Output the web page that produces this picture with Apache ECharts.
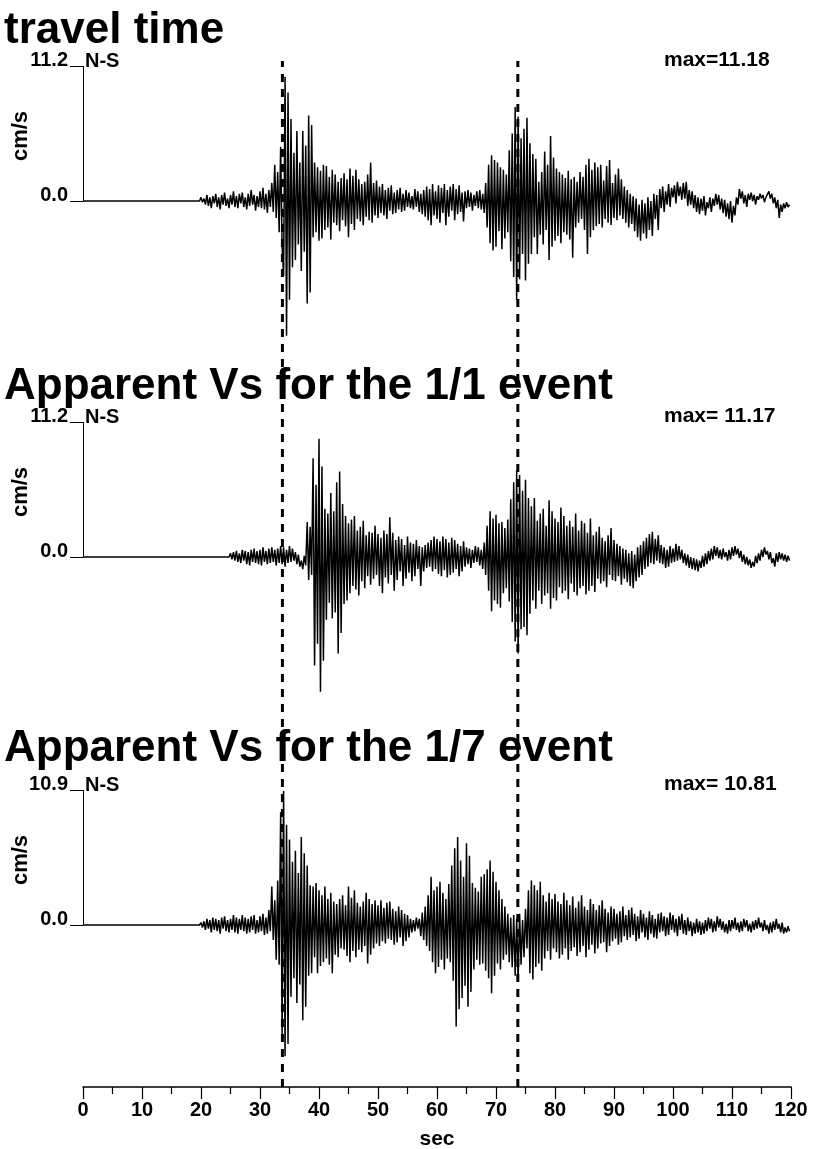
<!DOCTYPE html>
<html><head><meta charset="utf-8">
<script src="https://cdn.jsdelivr.net/npm/echarts@6/dist/echarts.min.js"></script>
<style>html,body{margin:0;padding:0;background:#fff}#c{width:815px;height:1149px}</style>
</head><body><div id="c"></div>
<script>
// ---------- data ----------
const titles = ['travel time', 'Apparent Vs for the 1/1 event', 'Apparent Vs for the 1/7 event'];
const componentLabel = 'N-S';
const yUnit = 'cm/s';
const yTop = [11.2, 11.2, 10.9];
const maxLabels = ['max=11.18', 'max= 11.17', 'max= 10.81'];
const pickTimes = [33.8, 73.7];
const xMin = 0, xMax = 120, xStep = 10;
const xName = 'sec';
const T0 = 20, DT = 0.25;

const trace1 = [
 0.3,-0.1,0.2,-0.3, 0.5,-0.4,0.3,-0.6, 0.4,-0.2,0.6,-0.5, 0.3,-0.7,0.5,-0.3, 0.7,-0.4,0.2,-0.6,
 0.5,-0.3,0.8,-0.5, 0.4,-0.6,0.6,-0.2, 0.7,-0.5,0.3,-0.7, 0.6,-0.4,0.9,-0.3, 0.5,-0.8,0.4,-0.5,
 0.8,-0.6,1.1,-0.7, 0.6,-1.0,0.9,-0.5, 1.5,-0.9,3.0,-1.4, 2.4,-2.6,4.5,-3.8, -6.2,10.3,-11.18,9.0,
 -8.2,6.8,-5.5,4.0, -4.9,5.8,-3.6,3.2, -5.8,5.8,-4.2,4.6, -8.5,7.1,-7.6,6.3, -3.0,3.2,-2.6,2.8,
 -3.3,2.5,-3.1,3.0, -2.4,2.9,-2.2,2.0, -3.2,2.6,-1.8,2.2, -2.0,1.6,-2.5,1.9, -1.6,2.3,-2.1,1.8,
 -3.0,2.7,-1.9,2.1, -2.4,2.6,-1.5,1.8, -1.7,1.4,-2.0,1.6, -1.3,2.2,-1.6,3.2, -1.8,1.5,-1.2,1.7,
 -1.4,1.2,-1.0,1.4, -1.2,0.9,-1.5,1.1, -0.8,1.3,-1.1,0.7, -1.0,0.9,-0.7,1.1, -0.9,0.6,-0.8,0.9,
 -0.5,0.7,-0.6,0.4, -0.7,1.0,-0.5,0.8, -0.9,0.6,-1.1,0.9, -1.3,1.2,-1.6,1.0, -2.0,1.4,-1.2,0.8,
 -1.5,1.3,-1.8,1.1, -1.0,1.4,-2.0,0.9, -1.3,1.2,-0.8,1.4, -1.6,1.0,-1.1,1.3, -0.9,0.7,-1.7,0.8,
 -0.6,0.9,-0.5,0.7, -0.8,0.5,-0.4,0.8, -0.6,0.9,-0.7,0.6, -1.0,1.5,-2.2,3.0, -3.5,3.8,-4.1,3.4,
 -3.8,3.2,-2.5,2.8, -4.0,2.6,-3.1,2.2, -2.6,4.2,-5.0,5.6, -6.3,7.8,-8.2,7.0, -6.5,5.2,-4.4,6.0,
 -6.6,6.9,-5.2,4.8, -4.4,3.9,-3.0,3.5, -4.4,1.6,-2.8,2.4, -3.6,4.1,-2.4,3.0, -4.9,5.4,-3.8,3.6,
 -3.3,2.7,-2.9,2.4, -3.5,2.2,-2.6,1.9, -2.8,2.5,-3.2,1.8, -4.7,2.0,-2.2,1.6, -1.8,2.4,-1.5,2.0,
 -2.4,3.0,-4.4,3.5, -3.0,2.6,-2.4,3.2, -2.1,2.8,-1.9,3.0, -2.2,1.7,-1.5,2.9, -1.8,3.4,-2.0,1.5,
 -1.4,2.2,-1.6,2.7, -1.2,1.8,-1.5,1.2, -1.8,0.9,-2.2,0.6, -1.9,0.4,-2.5,0.2, -3.0,-0.3,-3.3,0.1,
 -2.7,-0.2,-3.1,0.3, -2.4,0.0,-2.9,0.6, -1.5,0.5,-2.4,1.0, -0.6,1.2,-0.9,0.8, -0.3,1.4,-0.5,1.1,
 0.3,1.3,-0.2,1.6, 0.4,1.2,0.1,1.5, 0.2,1.6,-0.4,0.9, -0.3,0.8,-0.6,0.5, -0.9,0.3,-1.1,0.2,
 -0.8,0.4,-1.2,-0.1, -0.6,0.3,-0.9,0.2, -0.4,0.6,-0.3,0.5, -0.7,0.2,-1.0,0.1, -1.3,-0.2,-1.5,0.0,
 -1.8,-0.4,-1.2,0.3, -0.3,1.0,0.2,0.8, -0.2,0.5,-0.5,0.6, 0.1,0.7,0.0,0.5, -0.3,0.4,0.1,0.6,
 0.2,0.5,-0.1,0.3, 0.4,0.8,0.2,0.6, -0.2,0.3,-0.6,0.1, -1.4,-0.3,-0.9,-0.2, -0.6,-0.1,-0.5,-0.3
];

const trace2 = [
 0,0,0,0, 0,0,0,0, 0,0,0,0, 0,0,0,0, 0,0,0,0,
 0.3,-0.2,0.4,-0.3, 0.5,-0.4,0.3,-0.5, 0.6,-0.3,0.5,-0.6, 0.4,-0.7,0.6,-0.4, 0.7,-0.5,0.5,-0.6,
 0.6,-0.7,0.8,-0.4, 0.5,-0.6,0.7,-0.5, 0.8,-0.4,0.6,-0.7, 0.7,-0.5,0.9,-0.6, 0.8,-0.8,0.6,-0.5,
 0.9,-0.4,0.7,-0.3, 0.4,-0.6,0.2,-0.8, -0.3,-1.0,0.1,-0.7, 2.9,-1.9,2.5,-1.5, 8.2,-9.0,6.0,-7.2,
 9.8,-11.17,7.5,-8.6, 4.0,-5.2,3.6,-3.8, 5.3,-5.1,3.8,-4.6, 6.2,-8.0,7.1,-6.3, 4.4,-3.9,3.4,-3.6,
 2.8,-3.0,3.1,-2.4, 3.4,-2.7,2.2,-3.2, 2.5,-2.0,3.0,-2.6, 1.8,-1.6,2.1,-2.3, 2.0,-1.8,2.6,-1.5,
 1.9,-2.4,1.6,-3.0, 2.2,-1.7,1.9,-2.2, 3.3,-1.5,2.0,-2.8, 1.4,-1.9,1.7,-1.2, 1.5,-2.4,1.0,-1.8,
 1.7,-1.3,1.2,-2.0, 1.1,-1.6,1.4,-1.0, 0.9,-2.4,0.8,-1.2, 1.0,-0.9,1.2,-0.8, 1.4,-1.2,1.7,-1.0,
 1.5,-1.4,1.3,-1.6, 1.7,-1.1,1.5,-1.7, 1.2,-1.5,1.6,-1.3, 1.4,-1.0,1.1,-1.6, 0.9,-1.2,1.3,-0.8,
 0.8,-0.6,0.7,-0.9, 0.6,-0.5,0.9,-0.4, 0.8,-0.7,0.6,-1.0, 1.2,-1.5,2.6,-2.8, 3.8,-4.5,3.2,-3.6,
 3.5,-3.9,2.8,-4.2, 2.9,-3.0,2.4,-2.6, 3.1,-3.7,4.8,-5.4, 6.2,-7.0,7.2,-8.0, 6.8,-6.0,5.5,-5.8,
 6.4,-6.5,4.9,-4.7, 4.2,-3.6,4.9,-4.3, 3.0,-2.8,3.6,-3.9, 4.0,-3.2,2.6,-3.0, 4.7,-4.3,3.8,-3.4,
 3.2,-3.6,2.9,-2.5, 4.1,-3.0,3.4,-2.8, 2.6,-3.5,3.0,-2.2, 2.5,-2.9,3.6,-3.2, 2.2,-2.6,3.0,-2.4,
 2.8,-3.1,2.0,-2.8, 3.2,-2.4,1.8,-2.9, 2.1,-1.8,2.5,-2.2, 1.6,-2.0,1.3,-2.5, 1.8,-1.5,2.4,-1.9,
 1.4,-2.0,1.1,-1.6, 0.9,-2.3,0.7,-1.8, 0.6,-2.1,0.3,-2.4, 0.5,-2.6,0.2,-2.0, 0.8,-1.7,1.0,-1.5,
 1.3,-1.0,1.6,-0.8, 1.9,-0.5,2.1,-0.6, 1.5,-0.3,1.8,-0.5, 1.0,-0.6,0.8,-0.9, 0.6,-0.8,0.9,-0.5,
 0.7,-0.4,1.1,-0.3, 0.9,-0.2,0.6,-0.5, 0.3,-0.7,0.2,-0.9, 0.0,-1.0,-0.1,-1.1, -0.2,-1.2,-0.3,-0.9,
 0.1,-0.8,0.3,-0.6, 0.5,-0.3,0.7,-0.2, 0.9,0.1,0.8,-0.1, 0.6,-0.2,0.7,0.0, 0.4,-0.3,0.6,-0.2,
 0.8,0.1,0.9,0.2, 0.7,-0.1,0.5,-0.4, 0.2,-0.6,0.0,-0.7, -0.2,-0.9,-0.4,-0.8, 0.1,-0.5,0.3,-0.3,
 0.6,0.0,0.8,0.2, 0.5,-0.2,0.4,-0.5, -0.1,-0.8,0.3,-0.4, 0.4,-0.2,0.3,-0.3, 0.2,-0.4,0.1,-0.3
];

const trace3 = [
 0.2,-0.2,0.3,-0.4, 0.5,-0.3,0.4,-0.6, 0.6,-0.4,0.5,-0.5, 0.4,-0.7,0.6,-0.3, 0.7,-0.5,0.4,-0.6,
 0.5,-0.4,0.8,-0.6, 0.6,-0.7,0.5,-0.4, 0.8,-0.5,0.6,-0.7, 0.5,-0.6,0.7,-0.4, 0.8,-0.7,0.4,-0.6,
 0.7,-0.5,0.9,-0.8, 0.6,-0.7,1.2,-0.5, 3.1,-1.2,2.0,-2.8, 3.6,-3.2,9.1,-9.0, 10.81,-10.6,8.1,-9.6,
 6.9,-5.8,5.1,-4.3, 6.0,-6.3,4.2,-4.8, 7.1,-7.7,5.8,-6.6, 4.8,-4.1,3.2,-3.9, 3.1,-2.6,3.4,-3.9,
 2.8,-3.3,2.4,-3.0, 3.1,-2.7,2.1,-3.2, 2.6,-3.9,1.9,-2.4, 1.7,-2.6,2.1,-1.9, 2.4,-2.0,1.6,-2.5,
 3.1,-3.0,2.2,-2.1, 2.8,-2.6,1.8,-2.0, 1.5,-2.2,1.9,-1.7, 2.6,-3.1,2.1,-2.4, 1.7,-1.9,2.0,-1.5,
 1.6,-1.7,2.0,-1.3, 1.4,-1.5,1.8,-1.1, 1.9,-1.2,1.3,-1.6, 1.1,-1.4,1.5,-1.0, 1.2,-1.7,0.9,-1.3,
 0.8,-1.0,0.5,-0.6, 0.4,-0.5,0.6,-0.3, 0.5,-0.9,1.0,-1.2, 1.5,-1.7,2.4,-2.1, 3.9,-3.0,2.8,-3.9,
 3.1,-3.4,3.5,-2.8, 2.6,-3.6,2.1,-2.7, 3.3,-3.0,4.8,-4.5, 6.2,-8.2,7.1,-6.8, 5.2,-5.9,3.9,-4.9,
 6.6,-6.6,5.6,-5.4, 3.4,-3.6,3.0,-2.8, 2.7,-3.2,3.9,-3.1, 4.1,-3.7,4.5,-4.3, 5.2,-5.5,4.3,-4.1,
 3.5,-3.1,2.8,-3.6, 2.1,-2.8,1.5,-2.4, 0.9,-3.0,0.6,-3.4, 0.8,-4.1,0.5,-4.4, 0.9,-3.2,0.4,-2.6,
 1.3,-1.9,2.8,-3.9, 3.6,-4.4,3.2,-3.4, 2.8,-3.1,3.5,-3.7, 2.4,-2.7,1.9,-2.1, 2.6,-2.8,2.1,-1.9,
 2.5,-2.2,1.9,-2.7, 1.7,-2.4,2.6,-1.9, 2.0,-2.8,1.6,-2.1, 2.3,-1.8,1.4,-2.5, 1.9,-2.2,2.4,-1.7,
 1.5,-2.6,1.2,-2.0, 2.1,-1.6,1.7,-2.3, 1.2,-1.9,1.6,-1.5, 2.0,-1.4,1.3,-2.2, 1.0,-1.7,1.5,-1.3,
 1.3,-1.1,0.9,-1.6, 1.1,-1.4,1.5,-0.9, 0.8,-1.2,1.2,-1.0, 1.4,-0.8,0.9,-1.3, 0.7,-1.1,1.2,-0.6,
 0.9,-1.0,0.6,-1.2, 1.1,-0.7,0.8,-1.0, 0.5,-1.1,0.9,-0.6, 1.0,-0.5,0.7,-0.9, 0.6,-0.8,1.0,-0.4,
 0.8,-0.6,0.5,-0.9, 0.7,-0.4,0.9,-0.7, 0.4,-0.8,0.6,-0.5, 0.3,-0.9,0.2,-0.7, 0.5,-0.6,0.3,-0.8,
 0.2,-0.7,0.4,-0.5, 0.6,-0.3,0.5,-0.6, 0.3,-0.5,0.7,-0.2, 0.5,-0.4,0.3,-0.6, 0.1,-0.7,0.4,-0.5,
 0.4,-0.3,0.6,-0.4, 0.2,-0.6,0.3,-0.5, 0.5,-0.2,0.4,-0.5, 0.1,-0.6,0.3,-0.4, 0.4,-0.3,0.6,-0.2,
 0.2,-0.5,0.4,-0.4, 0.0,-0.7,0.2,-0.6, 0.3,-0.4,0.5,-0.3, 0.1,-0.6,0.2,-0.7, -0.2,-0.6,-0.1,-0.5
];
const traces = [trace1, trace2, trace3];

// ---------- layout ----------
const FONT = "'Liberation Sans', Arial, Helvetica, sans-serif";
const GL = 83, GR = 24;
const panelTop = [66, 422, 790];
const panelH = 270;
const titleBaseline = [42, 398, 760];
const axisBottomY = 1087, dashTop = 61;

const chart = echarts.init(document.getElementById('c'), null, { renderer: 'canvas' });

const grids = [], xAxes = [], yAxes = [], series = [], graphics = [];
for (let i = 0; i < 3; i++) {
  grids.push({ left: GL, right: GR, top: panelTop[i], height: panelH, outerBoundsMode: 'none', containLabel: false });
  xAxes.push({ gridIndex: i, type: 'value', min: xMin, max: xMax, show: false });
  yAxes.push({
    gridIndex: i, type: 'value', min: -yTop[i], max: yTop[i],
    axisLine: { show: false }, splitLine: { show: false },
    axisTick: { show: true, customValues: [0, yTop[i]], length: 13, lineStyle: { color: '#000', width: 1 } },
    axisLabel: { customValues: [0, yTop[i]], formatter: v => Number(v).toFixed(1),
      fontFamily: FONT, fontWeight: 'bold', fontSize: 20, color: '#000', margin: 15,
      verticalAlign: 'bottom', lineHeight: 11 }
  });
  const data = [[0, 0], [T0 - DT, 0]].concat(traces[i].map((v, k) => [T0 + k * DT, v]));
  series.push({
    type: 'line', xAxisIndex: i, yAxisIndex: i, data, showSymbol: false, symbol: 'none',
    sampling: null, lineStyle: { color: '#000', width: 1.5 }, silent: true, z: 2,
    markLine: { silent: true, symbol: ['none', 'none'], label: { show: false },
      lineStyle: { color: '#000', width: 1, type: 'solid' },
      data: [[{ coord: [0, 0] }, { coord: [0, yTop[i]] }]] }
  });
  graphics.push({ type: 'text', x: 4, y: titleBaseline[i] - 11,
    style: { text: titles[i], font: `bold 44px ${FONT}`, fill: '#000', align: 'left', verticalAlign: 'middle' } });
  graphics.push({ type: 'text', x: 85, y: panelTop[i] - 5,
    style: { text: componentLabel, font: `bold 20px ${FONT}`, fill: '#000', align: 'left', verticalAlign: 'middle' } });
  graphics.push({ type: 'text', x: 664, y: panelTop[i] - 6,
    style: { text: maxLabels[i], font: `bold 21px ${FONT}`, fill: '#000', align: 'left', verticalAlign: 'middle' } });
  graphics.push({ type: 'text', x: 21, y: panelTop[i] + 70, rotation: Math.PI / 2,
    style: { text: yUnit, font: `bold 22px ${FONT}`, fill: '#000', align: 'center', verticalAlign: 'middle' } });
}
// overlay grid: bottom time axis + pick lines
grids.push({ left: GL, right: GR, top: dashTop, height: axisBottomY - dashTop, outerBoundsMode: 'none', containLabel: false });
xAxes.push({
  gridIndex: 3, type: 'value', min: xMin, max: xMax, interval: xStep, position: 'bottom',
  axisLine: { show: true, lineStyle: { color: '#000', width: 1.5 } },
  axisTick: { show: true, length: 12, lineStyle: { color: '#000', width: 1.2 } },
  minorTick: { show: true, splitNumber: 2, length: 7, lineStyle: { color: '#000', width: 1.2 } },
  splitLine: { show: false }, minorSplitLine: { show: false },
  axisLabel: { fontFamily: FONT, fontWeight: 'bold', fontSize: 20, color: '#000', margin: 13 },
  name: xName, nameLocation: 'middle', nameGap: 42,
  nameTextStyle: { fontFamily: FONT, fontWeight: 'bold', fontSize: 21, color: '#000' }
});
yAxes.push({ gridIndex: 3, type: 'value', min: 0, max: 1, show: false });
pickTimes.forEach(t => {
  series.push({ type: 'line', xAxisIndex: 3, yAxisIndex: 3, data: [[t, 0], [t, 1]],
    showSymbol: false, symbol: 'none', silent: true, z: 5,
    lineStyle: { color: '#000', width: 3, type: [8, 7], cap: 'butt' } });
});

chart.setOption({
  animation: false, backgroundColor: '#fff',
  grid: grids, xAxis: xAxes, yAxis: yAxes, series, graphic: graphics
});
</script></body></html>
